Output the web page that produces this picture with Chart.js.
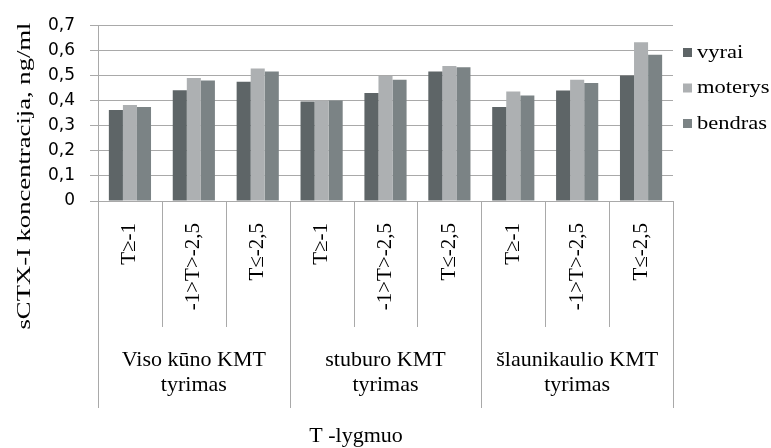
<!DOCTYPE html>
<html>
<head>
<meta charset="utf-8">
<script src="https://cdn.jsdelivr.net/npm/chart.js@4"></script>
<style>
  body { margin: 0; background: #fff; }
  #wrap { width: 771px; height: 448px; }
</style>
</head>
<body>
<div id="wrap"><canvas id="myChart" width="771" height="448"></canvas></div>
<script>
// duomenys
const categories = ['T≥-1', '-1>T>-2,5', 'T≤-2,5', 'T≥-1', '-1>T>-2,5', 'T≤-2,5', 'T≥-1', '-1>T>-2,5', 'T≤-2,5']
const groupLabels = [['Viso kūno KMT', 'tyrimas'], ['stuburo KMT', 'tyrimas'], ['šlaunikaulio KMT', 'tyrimas']]
const seriesNames = ['vyrai', 'moterys', 'bendras']
const vyrai = [0.362, 0.441, 0.475, 0.396, 0.430, 0.516, 0.374, 0.440, 0.500]
const moterys = [0.382, 0.490, 0.528, 0.400, 0.498, 0.538, 0.436, 0.483, 0.632]
const bendras = [0.374, 0.480, 0.516, 0.400, 0.483, 0.533, 0.420, 0.470, 0.582]
const yTitle = 'sCTX-I koncentracija, ng/ml'
const xTitle = 'T -lygmuo'

const colors = ['#5e6567', '#adb0b2', '#7b8385']
const gridColor = '#a9a9a9'
const serif = "'Liberation Serif', 'Times New Roman', serif"

// tekstas su horizontaliu ištempimu
const drawText = (ctx, text, x, y, opts) => {
    ctx.save()
    ctx.translate(x, y)
    if (opts.rotate) ctx.rotate(opts.rotate)
    ctx.scale(opts.stretch || 1, 1)
    ctx.font = opts.font
    ctx.fillStyle = '#000'
    ctx.textAlign = opts.align || 'center'
    ctx.textBaseline = opts.baseline || 'middle'
    ctx.fillText(text, 0, 0)
    ctx.restore()
}

const extras = {
    id: 'extras',
    afterDraw(chart) {
        const ctx = chart.ctx
        const a = chart.chartArea
        const x = chart.scales.x
        const step = x.width / categories.length
        const catBottom = 327
        const groupBottom = 408

        ctx.save()
        ctx.strokeStyle = gridColor
        ctx.lineWidth = 1
        for (let i = 0; i <= categories.length; i++) {
            const px = Math.round(x.getPixelForValue(0) - step / 2 + i * step) + 0.5
            ctx.beginPath()
            ctx.moveTo(px, a.bottom)
            ctx.lineTo(px, i % 3 === 0 ? groupBottom : catBottom)
            ctx.stroke()
        }
        ctx.restore()

        // kategorijų pavadinimai
        categories.forEach((c, i) => {
            drawText(ctx, c, x.getPixelForValue(i), 223, {
                font: '21px ' + serif, rotate: -Math.PI / 2, align: 'right'
            })
        })

        // grupės
        groupLabels.forEach((lines, g) => {
            const cx = (x.getPixelForValue(g * 3) + x.getPixelForValue(g * 3 + 2)) / 2
            lines.forEach((t, k) => {
                drawText(ctx, t, cx, 360 + k * 25, { font: '22px ' + serif })
            })
        })

        drawText(ctx, xTitle, 356, 436, { font: '22px ' + serif })
        drawText(ctx, yTitle, 25, 176, {
            font: '18px ' + serif, rotate: -Math.PI / 2, stretch: 1.48
        })

        // legenda
        seriesNames.forEach((n, i) => {
            const cy = 53 + i * 35.5
            ctx.fillStyle = colors[i]
            ctx.fillRect(683, cy - 5, 9, 9)
            drawText(ctx, n, 697, cy, { font: '18px ' + serif, align: 'left', stretch: 1.25 })
        })
    }
}

const config = {
    type: 'bar',
    data: {
        labels: categories,
        datasets: [
            { label: seriesNames[0], data: vyrai, backgroundColor: colors[0] },
            { label: seriesNames[1], data: moterys, backgroundColor: colors[1] },
            { label: seriesNames[2], data: bendras, backgroundColor: colors[2] }
        ]
    },
    options: {
        responsive: false,
        animation: false,
        layout: { padding: { top: 20, right: 98, bottom: 0, left: 0 } },
        datasets: { bar: { categoryPercentage: 0.66, barPercentage: 1 } },
        plugins: { legend: { display: false }, tooltip: { enabled: false } },
        scales: {
            x: {
                ticks: { display: false },
                grid: { display: false },
                border: { display: false },
                afterFit: (s) => { s.height = 247 }
            },
            y: {
                min: 0,
                max: 0.7,
                ticks: {
                    stepSize: 0.1,
                    padding: 15,
                    color: '#000',
                    font: { family: "'DejaVu Sans', sans-serif", size: 17 },
                    callback: (v) => v === 0 ? '0' : v.toFixed(1).replace('.', ',')
                },
                grid: { color: gridColor, tickLength: 8, tickColor: gridColor },
                border: { color: gridColor },
                afterFit: (s) => { s.width = 98 }
            }
        }
    },
    plugins: [extras]
}

const grafico = new Chart(document.getElementById('myChart'), config)
</script>
</body>
</html>
